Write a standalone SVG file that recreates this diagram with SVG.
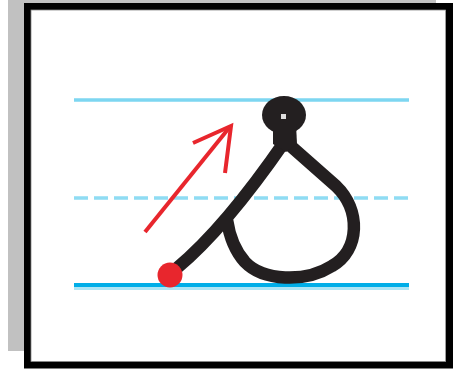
<svg xmlns="http://www.w3.org/2000/svg" width="461" height="371" viewBox="0 0 461 371">
<style>
.guide{fill:none;stroke-width:3.4}
.ink{fill:none;stroke:#231f20;stroke-width:12.5;stroke-linecap:butt;stroke-linejoin:round}
.red{fill:none;stroke:#e8262d;stroke-width:4;stroke-linecap:butt;stroke-linejoin:miter}
</style>
<rect x="0" y="0" width="461" height="371" fill="#ffffff"/>
<g id="frame">
<rect x="8" y="0" width="428" height="351" fill="#c1c1c1"/>
<rect x="27.5" y="6.5" width="422" height="358.5" fill="#ffffff" stroke="#000000" stroke-width="7"/>
<rect x="31" y="10" width="414.5" height="351.5" fill="none" stroke="#888888" stroke-width="0.8"/>
</g>
<g id="guides">
<line class="guide" x1="74" y1="100" x2="409" y2="100" stroke="#7dd6f1"/>
<line class="guide" x1="74" y1="198" x2="409" y2="198" stroke="#8fdcf3" stroke-width="3" stroke-dasharray="14 6"/>
<line x1="74" y1="288.5" x2="409" y2="288.5" stroke="#aee5f5" stroke-width="3"/>
<line x1="74" y1="285" x2="409" y2="285" stroke="#00aee8" stroke-width="4"/>
</g>
<g id="letter">
<path class="ink" d="M177,268 Q225,228 285,141 L336,186 C361,210 360,250 332,266 C305,283 263,281 245,262 C236,252 230,240 227,220"/>
<ellipse cx="284" cy="115" rx="22" ry="19" fill="#231f20"/>
<path d="M273,124 L296,124 L297,144 L286,152 L273,144 Z" fill="#231f20"/>
<rect x="281" y="114" width="5" height="5" fill="#ffffff" opacity="0.85"/>
<circle cx="170" cy="275" r="12.5" fill="#e8262d"/>
</g>
<g id="arrow">
<line class="red" x1="145" y1="232" x2="229" y2="128"/>
<polyline class="red" points="193,143 231,126 225,173"/>
</g>
</svg>
